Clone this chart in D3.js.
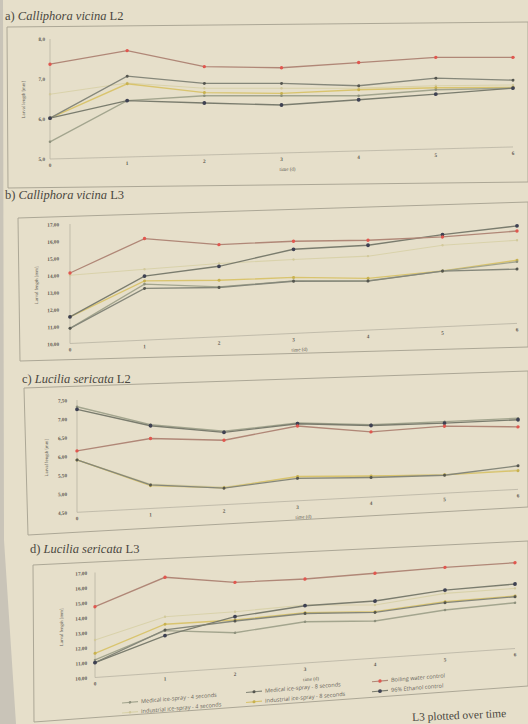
<!DOCTYPE html>
<html>
<head>
<meta charset="utf-8">
<script src="https://cdn.jsdelivr.net/npm/d3@7"></script>
<style>
  html, body { margin: 0; padding: 0; background: #e6dfca; }
  svg { display: block; }
</style>
</head>
<body>
<svg id="page" width="528" height="724"></svg>
<script>
// ---- data -------------------------------------------------------------
const days = [0, 1, 2, 3, 4, 5, 6];

const seriesNames = [
  "Medical ice-spray - 4 seconds",
  "Medical ice-spray - 8 seconds",
  "Boiling water control",
  "Industrial ice-spray - 4 seconds",
  "Industrial ice-spray - 8 seconds",
  "96% Ethanol control"
];

// larval length [mm] per day, rows in seriesNames order
const cvL2 = [
  [5.43, 6.41, 6.48, 6.43, 6.38, 6.48, 6.47],
  [6.02, 7.02, 6.79, 6.74, 6.63, 6.77, 6.67],
  [7.37, 7.66, 7.21, 7.13, 7.21, 7.29, 7.24],
  [6.62, 6.85, 6.67, 6.62, 6.57, 6.58, 6.55],
  [6.02, 6.83, 6.56, 6.49, 6.53, 6.53, 6.49],
  [6.02, 6.41, 6.30, 6.20, 6.28, 6.37, 6.47]
];
const cvL3 = [
  [10.89, 13.28, 12.92, 13.08, 12.89, 13.26, 13.61],
  [10.89, 13.03, 12.89, 13.06, 12.87, 13.26, 13.18],
  [14.13, 15.95, 15.40, 15.40, 15.26, 15.26, 15.41],
  [14.00, 14.15, 14.29, 14.33, 14.33, 14.77, 14.87],
  [11.56, 13.47, 13.31, 13.28, 13.03, 13.27, 13.70],
  [11.56, 13.75, 14.13, 14.93, 14.97, 15.40, 15.71]
];
const lsL2 = [
  [7.32, 6.74, 6.46, 6.58, 6.43, 6.41, 6.40],
  [5.90, 5.13, 4.94, 5.10, 5.02, 4.98, 5.13],
  [6.14, 6.37, 6.22, 6.50, 6.24, 6.29, 6.17],
  [5.90, 5.15, 4.97, 5.13, 5.05, 5.00, 5.02],
  [5.90, 5.11, 4.95, 5.15, 5.06, 4.99, 5.00],
  [7.25, 6.71, 6.43, 6.56, 6.41, 6.37, 6.36]
];
const lsL3 = [
  [11.17, 12.80, 12.34, 12.75, 12.48, 12.89, 13.05],
  [10.99, 12.85, 13.12, 13.30, 13.05, 13.38, 13.45],
  [14.72, 16.36, 15.70, 15.60, 15.66, 15.73, 15.72],
  [12.50, 13.73, 13.74, 13.87, 13.55, 14.00, 14.01],
  [11.61, 13.23, 13.19, 13.35, 13.10, 13.44, 13.50],
  [10.99, 12.47, 13.41, 13.82, 13.81, 14.22, 14.30]
];

const ticksL2cv = [5, 6, 7, 8];
const ticksL3cv = [10, 11, 12, 13, 14, 15, 16, 17];
const ticksL2ls = [4.5, 5, 5.5, 6, 6.5, 7, 7.5];
const ticksL3ls = [10, 11, 12, 13, 14, 15, 16, 17];

// ---- styles -----------------------------------------------------------
const lineColor = ["#a3a58e", "#85877a", "#b08777", "#d9d2ab", "#d9c46e", "#7a7c6e"];
const markColor = ["#8d907c", "#55564f", "#e0574f", "#d2c99c", "#c8b14f", "#3e4152"];
const markSize  = [1.3, 1.5, 1.7, 1.2, 1.5, 1.9];

const commaFmt = d3.formatLocale({ decimal: ",", thousands: ".", grouping: [3], currency: ["", ""] });

const svg = d3.select("#page");

// page sheet edge on the left
svg.append("polygon")
  .attr("points", "0,0 3,0 4,540 16,724 0,724")
  .attr("fill", "#c9c4b8");

// ---- panels -----------------------------------------------------------
const panels = [
  { title: ["a) ", "Calliphora vicina", " L2"], tx: 5, ty: 20, data: cvL2, ticks: ticksL2cv, dec: 1,
    x0: 50, x1: 513, yTop: 39, yBot: 159, vTop: 8, vBot: 5, k: 0.026, tickGap: 5, titleX: 25,
    frame: "7,27 528,22 528,182 8,188" },
  { title: ["b) ", "Calliphora vicina", " L3"], tx: 5, ty: 199, data: cvL3, ticks: ticksL3cv, dec: 2,
    x0: 70, x1: 517, yTop: 224, yBot: 343.5, vTop: 17, vBot: 10, k: 0.045, tickGap: 11, titleX: 38,
    frame: "18,218 528,202 528,347 20,361" },
  { title: ["c) ", "Lucilia sericata", " L2"], tx: 22, ty: 383, data: lsL2, ticks: ticksL2ls, dec: 2,
    x0: 77, x1: 518, yTop: 400, yBot: 512.3, vTop: 7.5, vBot: 4.5, k: 0.052, tickGap: 10, titleX: 48,
    frame: "24,388 528,371 528,507 28,535" },
  { title: ["d) ", "Lucilia sericata", " L3"], tx: 30, ty: 553, data: lsL3, ticks: ticksL3ls, dec: 2,
    x0: 95, x1: 515, yTop: 572.5, yBot: 677.5, vTop: 17, vBot: 10, k: 0.069, tickGap: 8, titleX: 63,
    frame: "33,565 528,541 528,686 34,722" }
];

panels.forEach(p => {
  // frame and title sit on the page as printed
  svg.append("polygon")
    .attr("points", p.frame)
    .attr("fill", "none")
    .attr("stroke", "#aca796")
    .attr("stroke-width", 1);

  const t = svg.append("text")
    .attr("x", p.tx).attr("y", p.ty)
    .attr("font-family", "Liberation Serif, DejaVu Serif, serif")
    .attr("font-size", 12.5)
    .attr("fill", "#4a4740");
  p.title.forEach((s, i) => t.append("tspan").text(s).attr("font-style", i === 1 ? "italic" : "normal"));

  // chart body, sheared with the sheet
  const g = svg.append("g")
    .attr("transform", `matrix(1,${-p.k},0,1,0,${p.k * p.x0})`);

  const x = d3.scaleLinear().domain([0, 6]).range([p.x0, p.x1]);
  const y = d3.scaleLinear().domain([p.vBot, p.vTop]).range([p.yBot, p.yTop]);

  // axes lines
  g.append("line").attr("x1", p.x0).attr("x2", p.x0).attr("y1", p.yTop).attr("y2", p.yBot)
    .attr("stroke", "#b9b4a4").attr("stroke-width", 0.8);
  g.append("line").attr("x1", p.x0).attr("x2", p.x1).attr("y1", p.yBot).attr("y2", p.yBot)
    .attr("stroke", "#b9b4a4").attr("stroke-width", 0.8);

  // y tick labels
  g.selectAll("text.yt").data(p.ticks).join("text")
    .attr("class", "yt")
    .attr("x", p.x0 - p.tickGap)
    .attr("y", d => y(d) + 1.8)
    .attr("text-anchor", "end")
    .attr("font-family", "Liberation Serif, serif")
    .attr("font-weight", 700)
    .attr("font-size", 5.2)
    .attr("fill", "#5e5b52")
    .text(d => commaFmt.format(`.${p.dec}f`)(d));

  // x tick labels
  g.selectAll("text.xt").data(days).join("text")
    .attr("class", "xt")
    .attr("x", d => x(d))
    .attr("y", p.yBot + 8)
    .attr("text-anchor", "middle")
    .attr("font-family", "Liberation Serif, serif")
    .attr("font-weight", 700)
    .attr("font-size", 5.2)
    .attr("fill", "#5e5b52")
    .text(d => d);

  g.append("text")
    .attr("x", x(3) + 6).attr("y", p.yBot + 18)
    .attr("text-anchor", "middle")
    .attr("font-family", "Liberation Serif, serif")
    .attr("font-size", 5)
    .attr("fill", "#5e5b52")
    .text("time (d)");

  g.append("text")
    .attr("transform", `translate(${p.titleX},${(p.yTop + p.yBot) / 2}) rotate(-90)`)
    .attr("text-anchor", "middle")
    .attr("font-family", "Liberation Serif, serif")
    .attr("font-size", 4.8)
    .attr("fill", "#5e5b52")
    .text("Larval length [mm]");

  // series lines, light ones first
  const order = [3, 4, 0, 1, 5, 2];
  const line = d3.line().x((d, i) => x(days[i])).y(d => y(d));
  order.forEach(si => {
    g.append("path")
      .attr("d", line(p.data[si]))
      .attr("fill", "none")
      .attr("stroke", lineColor[si])
      .attr("stroke-width", si === 3 ? 1.1 : 1.35);
  });
  order.forEach(si => {
    g.selectAll(null).data(p.data[si]).join("circle")
      .attr("cx", (d, i) => x(days[i]))
      .attr("cy", d => y(d))
      .attr("r", markSize[si])
      .attr("fill", markColor[si]);
  });
});

// ---- legend -----------------------------------------------------------
const legendPos = [
  { x: 122, y: 0 }, { x: 246, y: 0 }, { x: 372, y: 0 },
  { x: 122, y: 1 }, { x: 246, y: 1 }, { x: 372, y: 1 }
];
const legendOrder = [0, 1, 2, 3, 4, 5];
const lg = svg.append("g")
  .attr("transform", `matrix(1,${-0.085},0,1,0,${0.085 * 122})`);
legendOrder.forEach((si, j) => {
  const pos = legendPos[j];
  const ly = 703 + pos.y * 10;
  const it = lg.append("g");
  it.append("line").attr("x1", pos.x).attr("x2", pos.x + 16).attr("y1", ly).attr("y2", ly)
    .attr("stroke", lineColor[si]).attr("stroke-width", 1.1);
  it.append("circle").attr("cx", pos.x + 8).attr("cy", ly).attr("r", markSize[si]).attr("fill", markColor[si]);
  it.append("text").attr("x", pos.x + 19).attr("y", ly + 1.8)
    .attr("font-family", "Open Sans, Liberation Sans, sans-serif")
    .attr("font-size", 5.6)
    .attr("fill", "#6a665c")
    .text(seriesNames[si]);
});

// caption below the figure
svg.append("text")
  .attr("x", 412).attr("y", 719)
  .attr("font-family", "Liberation Serif, serif")
  .attr("font-size", 11.5)
  .attr("fill", "#4a4740")
  .attr("transform", "rotate(-2.5 460 716)")
  .text("L3 plotted over time");
</script>
</body>
</html>
